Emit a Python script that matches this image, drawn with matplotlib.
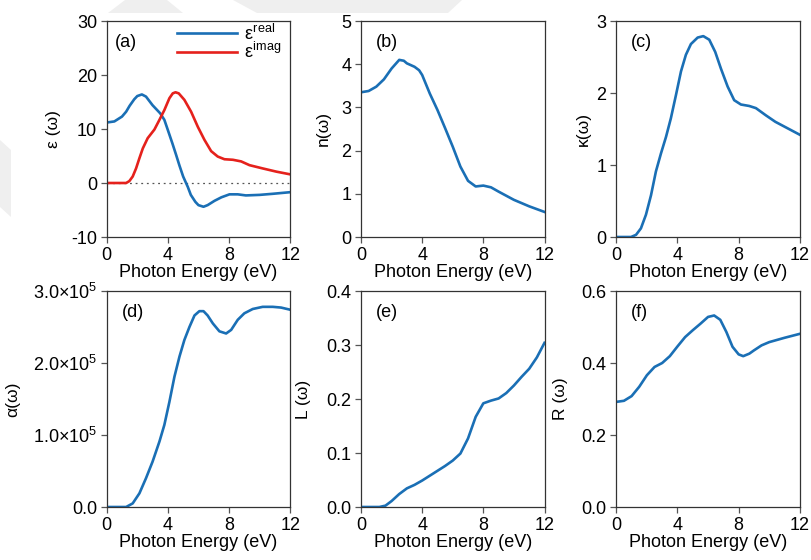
import matplotlib
matplotlib.use("Agg")
import matplotlib.pyplot as plt
from matplotlib.patches import Polygon
from matplotlib.ticker import FixedLocator, FuncFormatter

plt.rcParams["font.family"] = ["Liberation Sans", "DejaVu Sans"]
plt.rcParams["mathtext.fontset"] = "custom"
plt.rcParams["mathtext.rm"] = "Liberation Sans"
plt.rcParams["mathtext.it"] = "Liberation Sans"
plt.rcParams["mathtext.bf"] = "Liberation Sans"
plt.rcParams["axes.unicode_minus"] = False

BLUE = "#1a6fb5"
RED = "#e5211c"

# ---- dielectric function ----
eps_real_E = [0, 0.5, 1.0, 1.27, 1.5, 1.8, 2.0, 2.3, 2.57, 3.0, 3.5, 3.77, 4.0,
              4.3, 4.54, 4.75, 5.0, 5.3, 5.5, 5.8, 6.0, 6.33, 6.6, 7.05, 7.5,
              8.03, 8.57, 9.1, 10.0, 10.86, 12.0]
eps_real = [11.2, 11.4, 12.3, 13.2, 14.3, 15.5, 16.1, 16.4, 16.0, 14.4, 12.9,
            11.7, 9.8, 7.3, 5.2, 3.3, 1.2, -0.7, -2.2, -3.5, -4.1, -4.4, -4.1,
            -3.3, -2.65, -2.1, -2.1, -2.3, -2.2, -2.0, -1.7]

eps_imag_E = [0, 1.27, 1.48, 1.7, 1.92, 2.14, 2.36, 2.68, 3.12, 3.45, 3.77, 4.1,
              4.32, 4.5, 4.71, 5.08, 5.52, 5.96, 6.39, 6.83, 7.26, 7.7, 8.25,
              8.79, 9.34, 10.2, 11.1, 12.0]
eps_imag = [0, 0, 0.35, 1.2, 2.7, 4.6, 6.4, 8.3, 9.9, 11.7, 13.5, 15.7, 16.6,
            16.8, 16.6, 15.4, 13.2, 10.4, 8.0, 5.9, 4.9, 4.4, 4.3, 4.0, 3.3,
            2.7, 2.1, 1.6]

# ---- refractive index ----
n_E = [0, 0.5, 1, 1.5, 2, 2.5, 2.8, 3, 3.5, 3.8, 4, 4.5, 5, 5.5, 6, 6.5, 7,
       7.5, 8, 8.5, 9, 10, 11, 12]
n_val = [3.35, 3.38, 3.48, 3.65, 3.9, 4.1, 4.08, 4.02, 3.94, 3.86, 3.75, 3.32,
         2.94, 2.52, 2.09, 1.63, 1.3, 1.17, 1.19, 1.15, 1.05, 0.86, 0.71, 0.58]

# ---- extinction coefficient ----
k_E = [0, 0.96, 1.29, 1.61, 1.94, 2.27, 2.59, 2.92, 3.25, 3.57, 3.9, 4.23,
       4.55, 4.88, 5.32, 5.69, 6.08, 6.47, 6.84, 7.28, 7.71, 8.15, 8.69, 9.13,
       9.78, 10.4, 11.2, 12.0]
k_val = [0, 0, 0.03, 0.12, 0.31, 0.58, 0.91, 1.16, 1.39, 1.65, 1.97, 2.3, 2.53,
         2.68, 2.77, 2.79, 2.74, 2.57, 2.34, 2.09, 1.9, 1.84, 1.82, 1.79, 1.69,
         1.6, 1.51, 1.42]

# ---- absorption coefficient ----
a_E = [0, 1.27, 1.7, 2.14, 2.57, 3.0, 3.45, 3.77, 4.1, 4.43, 4.76, 5.08, 5.41,
       5.74, 6.06, 6.33, 6.6, 6.94, 7.37, 7.81, 8.14, 8.57, 9.0, 9.55, 10.2,
       10.86, 11.4, 12.0]
a_val = [0, 0, 0.05e5, 0.19e5, 0.4e5, 0.63e5, 0.91e5, 1.14e5, 1.46e5, 1.81e5,
         2.09e5, 2.32e5, 2.5e5, 2.66e5, 2.72e5, 2.72e5, 2.66e5, 2.55e5, 2.44e5,
         2.41e5, 2.46e5, 2.6e5, 2.69e5, 2.75e5, 2.78e5, 2.78e5, 2.77e5, 2.74e5]

# ---- energy loss ----
L_E = [0, 1.2, 1.6, 2, 2.5, 3, 3.5, 4, 4.5, 5, 5.5, 6, 6.5, 7, 7.5, 8, 8.5,
       9, 9.5, 10, 10.5, 11, 11.5, 12]
L_val = [0, 0, 0.0025, 0.011, 0.024, 0.0345, 0.041, 0.049, 0.058, 0.067,
         0.076, 0.086, 0.099, 0.127, 0.167, 0.192, 0.197, 0.201, 0.211, 0.225,
         0.241, 0.256, 0.277, 0.304]

# ---- reflectivity ----
R_E = [0, 0.5, 1, 1.5, 2, 2.5, 3, 3.5, 4, 4.5, 5, 5.5, 6, 6.4, 6.8, 7.2, 7.6,
       8, 8.3, 8.7, 9, 9.5, 10, 11, 12]
R_val = [0.292, 0.295, 0.308, 0.334, 0.366, 0.389, 0.4, 0.419, 0.446, 0.472,
         0.491, 0.509, 0.528, 0.532, 0.52, 0.486, 0.445, 0.424, 0.419, 0.426,
         0.435, 0.449, 0.458, 0.47, 0.481]

x_ticks = [0, 4, 8, 12]
FS = 13

fig = plt.figure(figsize=(8.11, 5.60), dpi=100)

# faint background shapes
for pts in [
    [(125, 0), (167, 0), (183, 13), (108, 13)],
    [(233, 0), (462, 0), (448, 13), (257, 13)],
    [(0, 140), (11, 150), (11, 217), (0, 207)],
]:
    fig.patches.append(Polygon([(x / 811, 1 - y / 560) for x, y in pts],
                               closed=True, transform=fig.transFigure,
                               facecolor="#efefef", edgecolor="none", zorder=0))

W, H = 183.5 / 811, 216 / 560
lefts = [106.7 / 811, 361 / 811, 616.3 / 811]
bottoms = [1 - 237 / 560, 1 - 507 / 560]

def style(ax, ylim, yticks, ylabel, label_x, tag, tag_x=0.08):
    ax.set_xlim(0, 12)
    ax.set_ylim(*ylim)
    ax.xaxis.set_major_locator(FixedLocator(x_ticks))
    ax.yaxis.set_major_locator(FixedLocator(yticks))
    ax.tick_params(direction="out", length=4, width=0.9, color="#555555",
                   labelsize=FS, pad=3, top=False, right=False)
    for s in ax.spines.values():
        s.set_color("#333333")
        s.set_linewidth(0.9)
    ax.set_xlabel("Photon Energy (eV)", fontsize=FS, labelpad=0)
    ax.set_ylabel(ylabel, fontsize=FS - 0.5, va="center")
    ax.yaxis.set_label_coords(label_x, 0.5)
    ax.text(tag_x, 0.9, tag, transform=ax.transAxes, fontsize=FS,
            va="center", ha="left")
    ax.patch.set_alpha(0)

lw = 1.9

ax = fig.add_axes([lefts[0], bottoms[0], W, H])
ax.axhline(0, color="#555555", lw=0.9, ls=(0, (1.5, 3)), zorder=1)
ax.plot(eps_real_E, eps_real, color=BLUE, lw=lw, label=r"$\varepsilon^{\mathrm{real}}$")
ax.plot(eps_imag_E, eps_imag, color=RED, lw=lw, label=r"$\varepsilon^{\mathrm{imag}}$")
style(ax, (-10, 30), [-10, 0, 10, 20, 30], "ε (ω)", -0.29, "(a)", 0.045)
ax.legend(loc="upper right", frameon=False, fontsize=FS, handlelength=3.3,
          handletextpad=0.4, labelspacing=-0.1, borderaxespad=0.1,
          bbox_to_anchor=(1.0, 1.03))

ax = fig.add_axes([lefts[1], bottoms[0], W, H])
ax.plot(n_E, n_val, color=BLUE, lw=lw)
style(ax, (0, 5), [0, 1, 2, 3, 4, 5], "n(ω)", -0.205, "(b)")

ax = fig.add_axes([lefts[2], bottoms[0], W, H])
ax.plot(k_E, k_val, color=BLUE, lw=lw)
style(ax, (0, 3), [0, 1, 2, 3], "κ(ω)", -0.18, "(c)")

ax = fig.add_axes([lefts[0], bottoms[1], W, H])
ax.plot(a_E, a_val, color=BLUE, lw=lw)
style(ax, (0, 3e5), [0, 1e5, 2e5, 3e5], "α(ω)", -0.51, "(d)")

def sci(v, pos):
    if v == 0:
        return "0.0"
    return r"$%.1f{\times}10^{5}$" % (v / 1e5)

ax.yaxis.set_major_formatter(FuncFormatter(sci))

ax = fig.add_axes([lefts[1], bottoms[1], W, H])
ax.plot(L_E, L_val, color=BLUE, lw=lw)
style(ax, (0, 0.4), [0, 0.1, 0.2, 0.3, 0.4], "L (ω)", -0.315, "(e)")
ax.yaxis.set_major_formatter(FuncFormatter(lambda v, p: "%.1f" % v))

ax = fig.add_axes([lefts[2], bottoms[1], W, H])
ax.plot(R_E, R_val, color=BLUE, lw=lw)
style(ax, (0, 0.6), [0, 0.2, 0.4, 0.6], "R (ω)", -0.305, "(f)")
ax.yaxis.set_major_formatter(FuncFormatter(lambda v, p: "%.1f" % v))

fig.savefig("out.png", dpi=100)
